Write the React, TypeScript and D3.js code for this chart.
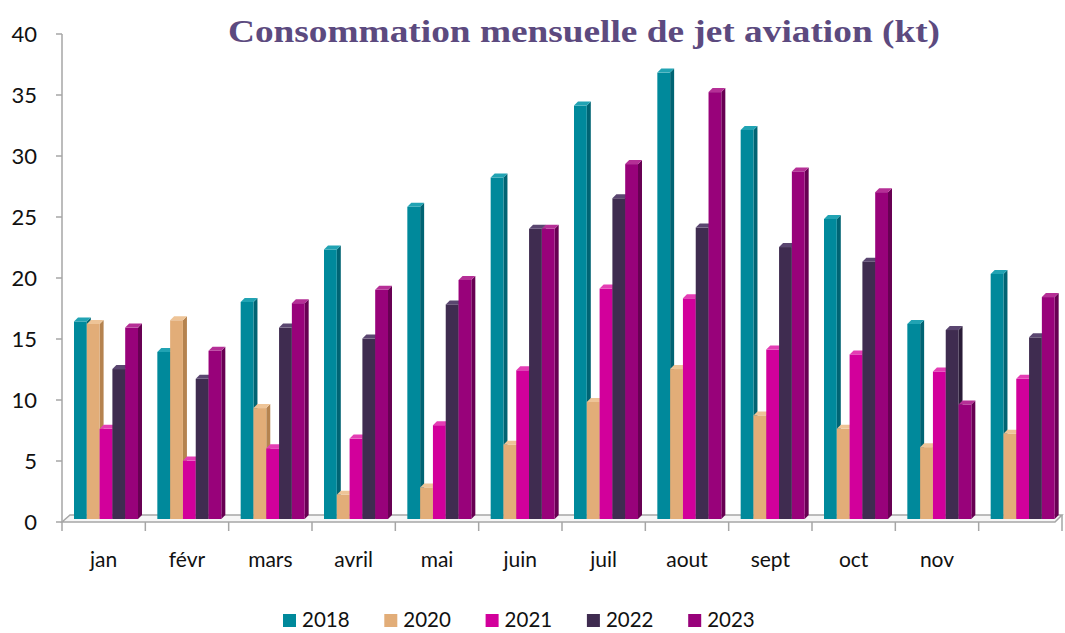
import * as d3 from 'd3';

// months (last label is blank in the source)
const months = ['jan', 'févr', 'mars', 'avril', 'mai', 'juin', 'juil', 'aout', 'sept', 'oct', 'nov', ''];
const years = ['2018', '2020', '2021', '2022', '2023'];

const v2018 = [16.6, 14.1, 18.2, 22.5, 26.0, 28.4, 34.3, 37.0, 32.3, 25.0, 16.4, 20.5];
const v2020 = [16.4, 16.7, 9.5, 2.4, 3.0, 6.5, 10.0, 12.7, 8.9, 7.8, 6.3, 7.4];
const v2021 = [7.8, 5.2, 6.2, 7.0, 8.1, 12.6, 19.3, 18.5, 14.3, 13.9, 12.5, 11.9];
const v2022 = [12.7, 11.9, 16.1, 15.2, 18.0, 24.2, 26.7, 24.3, 22.7, 21.5, 15.9, 15.3];
const v2023 = [16.1, 14.2, 18.1, 19.2, 20.0, 24.2, 29.5, 35.4, 28.9, 27.2, 9.8, 18.6];
const yTicks = [0, 5, 10, 15, 20, 25, 30, 35, 40];

const seriesValues = [v2018, v2020, v2021, v2022, v2023];
const front = ['#00899b', '#e2ad78', '#d2009b', '#3f2c50', '#98027a'];
const side = ['#006473', '#b5834f', '#9c0073', '#2a1c37', '#680053'];
const top = ['#21a3b3', '#eec497', '#e43db4', '#5a4670', '#b52f96'];

const W = 1065;
const H = 633;
const dx = 4;
const dy = 4;
const floorY = 519;

export default function App() {
  const x0 = d3.scaleBand().domain(months.map((m, i) => String(i))).range([62, 1062]);
  const x1 = d3.scaleBand().domain(years).range([12, 76]);
  const y = d3.scaleLinear().domain([0, 40]).range([522, 34]);
  const bw = x1.bandwidth();
  const grey = '#a6a6a6';
  const font = 'Lato, "Open Sans", sans-serif';

  return (
    <svg width={W} height={H} style={{ position: 'absolute', left: 0, top: 0, background: '#fff' }}>
      <text x={584} y={42} textAnchor="middle" fontFamily='"Liberation Serif", serif' fontWeight="bold"
        fontSize={32} fill="#5c4a7f" textLength={712} lengthAdjust="spacingAndGlyphs">
        Consommation mensuelle de jet aviation (kt)
      </text>

      {/* y axis */}
      <line x1={62} x2={62} y1={34} y2={522} stroke={grey} strokeWidth={1.5} />
      {yTicks.map(t => (
        <g key={t}>
          <line x1={56} x2={62} y1={y(t)} y2={y(t)} stroke={grey} strokeWidth={1.5} />
          <text x={37} y={y(t)} dy="0.35em" textAnchor="end" fontFamily={font} fontSize={22} fill="#111">{t}</text>
        </g>
      ))}

      {/* floor */}
      <path d={`M62,522 L70,515 L1062,515 L1055,522 Z`} fill="#f6f6f6" stroke={grey} strokeWidth={1.5} />
      {months.map((m, i) => (
        <line key={'t' + i} x1={x0(String(i))} x2={x0(String(i))} y1={522} y2={531} stroke={grey} strokeWidth={1.5} />
      ))}
      <line x1={1062} x2={1062} y1={515} y2={531} stroke={grey} strokeWidth={1.5} />

      {/* bars */}
      {months.map((m, i) => (
        <g key={'g' + i} transform={`translate(${x0(String(i))},0)`}>
          {years.map((yr, s) => {
            const bx = x1(yr) as number;
            const by = y(seriesValues[s][i]) + 2;
            return (
              <g key={yr}>
                <polygon points={`${bx + bw},${by} ${bx + bw + dx},${by - dy} ${bx + bw + dx},${floorY - dy} ${bx + bw},${floorY}`} fill={side[s]} />
                <rect x={bx} y={by} width={bw} height={floorY - by} fill={front[s]} />
                <polygon points={`${bx},${by} ${bx + dx},${by - dy} ${bx + bw + dx},${by - dy} ${bx + bw},${by}`} fill={top[s]} />
              </g>
            );
          })}
        </g>
      ))}

      {/* x labels */}
      {months.map((m, i) => (
        <text key={'l' + i} x={(x0(String(i)) as number) + x0.bandwidth() / 2} y={567} textAnchor="middle"
          fontFamily={font} fontSize={21} fill="#111">{m}</text>
      ))}

      {/* legend */}
      {years.map((yr, s) => (
        <g key={'lg' + yr} transform={`translate(${283 + s * 101.3},620)`}>
          <rect x={0} y={-6} width={13} height={13} fill={front[s]} />
          <text x={19} y={7} fontFamily={font} fontSize={20.5} fill="#111">{yr}</text>
        </g>
      ))}
    </svg>
  );
}
